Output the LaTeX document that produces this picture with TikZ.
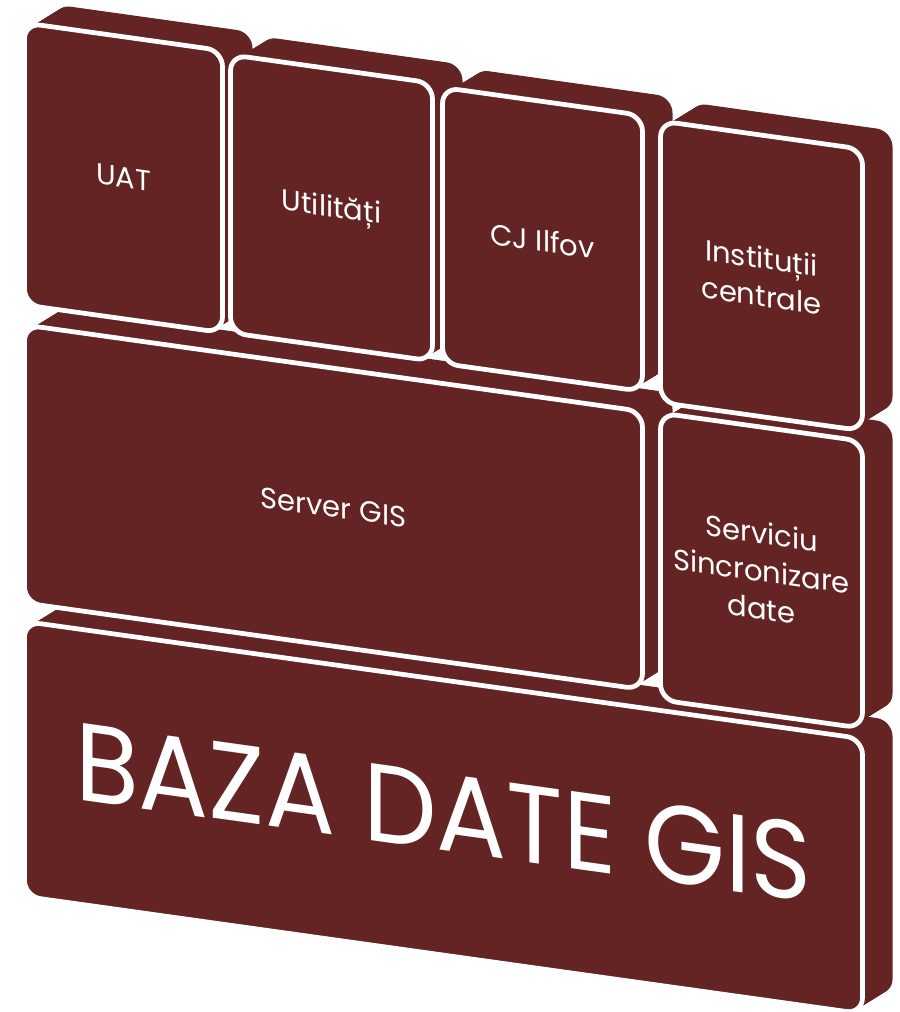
\documentclass[tikz,border=0pt]{standalone}
\usepackage{fontspec}
\setmainfont{Poppins}
\definecolor{brick}{RGB}{99,36,35}
\newcommand\drawblock[4]{% x1 v1 x2 v2 (centre line of the white outline)
  \foreach \t in {0,1,...,30} {%
    \fill[depth] ({#1+\t},{#2-\t*0.7567}) rectangle ({#3+\t},{#4-\t*0.7567});}
  \draw[face] (#1,#2) rectangle (#3,#4);
}
\begin{document}
\begin{tikzpicture}[x=0.02cm,y=-0.02cm]
\useasboundingbox (0,0) rectangle (900,1012);
\tikzset{
  face/.style={fill=brick, draw=white, line width=0.095cm, rounded corners=0.32cm},
  depth/.style={fill=brick, rounded corners=0.32cm},
  lbl/.style={text=white, align=center, font=\fontsize{16.5}{21.5}\selectfont, transform shape, inner sep=0pt},
  big/.style={text=white, font=\fontsize{63}{63}\selectfont, transform shape, inner sep=0pt, xscale=0.94},
}
\begin{scope}[yslant=-0.14]
  % bottom layer
  \drawblock{24.5}{618}{862.5}{893}
  \node[big] (baza) at (443.5,750) {BAZA DATE GIS};
  % middle layer
  \drawblock{24.5}{321.5}{642.5}{599.5}
  \node[lbl] (server) at (333.5,460.5) {Server GIS};
  \drawblock{660.5}{320.5}{862.5}{607.5}
  \node[lbl] (sync) at (761.5,464) {Serviciu\\Sincronizare\\date};
  % top layer
  \drawblock{24.5}{19.5}{222.5}{301.5}
  \node[lbl] (uat) at (123.5,160.5) {UAT};
  \drawblock{230.5}{22.5}{432.5}{300.5}
  \node[lbl] (util) at (331.5,163) {Utilități};
  \drawblock{442.5}{25.5}{642.5}{301.5}
  \node[lbl] (cj) at (542.5,165) {CJ Ilfov};
  \drawblock{660.5}{28.5}{862.5}{310}
  \node[lbl] (inst) at (761.5,170) {Instituții\\centrale};
\end{scope}
\end{tikzpicture}
\end{document}
